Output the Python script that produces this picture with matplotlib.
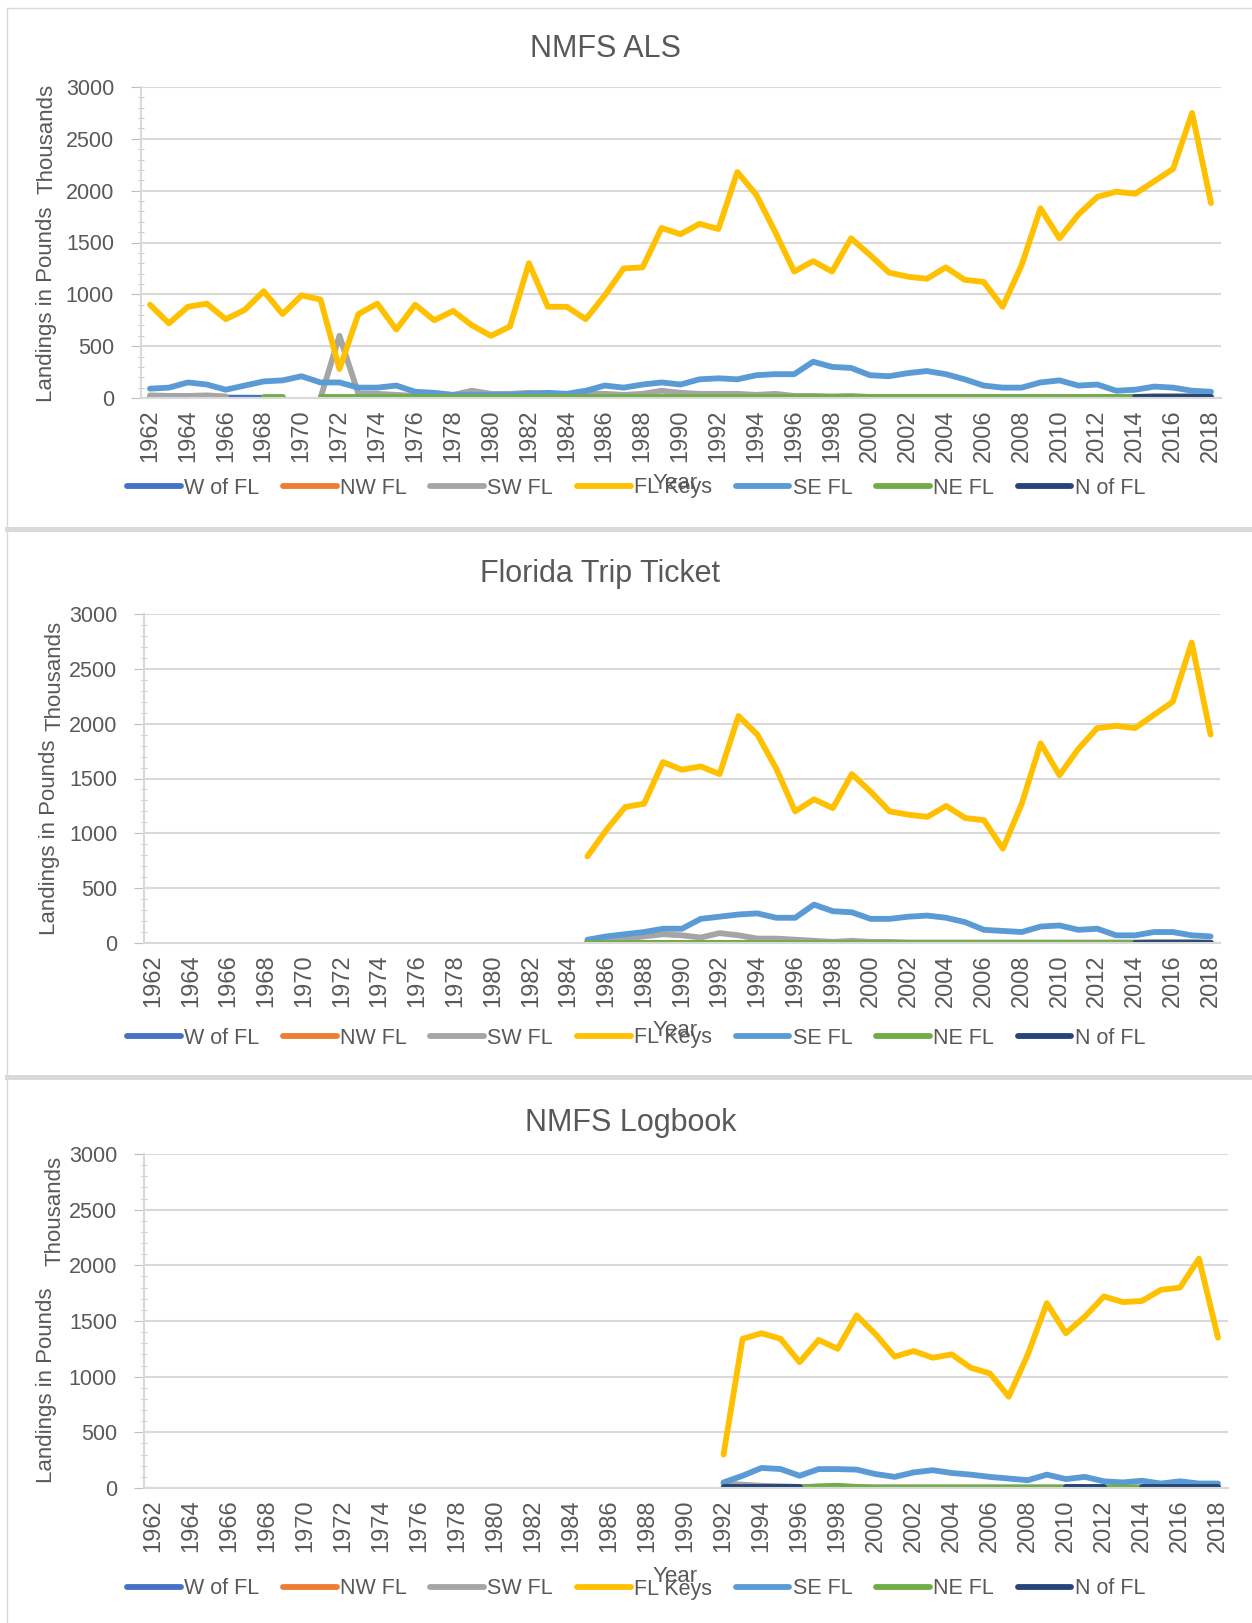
import numpy as np
import matplotlib
matplotlib.use("Agg")
import matplotlib.pyplot as plt
from matplotlib.lines import Line2D
from matplotlib.ticker import MultipleLocator

plt.rcParams['font.family'] = ['Liberation Sans', 'DejaVu Sans']

years = list(range(1962, 2019))
N = None

# NMFS ALS (1962-2018)
als_w_of_fl = [5, 5, 5, 5, 3, 3, 2] + [N] * 50
als_nw_fl = [N] * 9 + [0] * 48
als_sw_fl = [25, 20, 20, 25, 15, N, N, N, N, 0, 600, 40, 40, 30, 20, 30, 30, 70, 40, 40,
             50, 40, 30, 40, 40, 30, 40, 70, 50, 40, 40, 40, 30, 40, 20, 20, 15, 20, 10, 10,
             10, 10, 10, 10, 10, 10, 10, 10, 10, 10, 10, 10, 10, 20, 20, 20, 10]
als_fl_keys = [900, 720, 880, 910, 760, 850, 1030, 810, 990, 950, 280, 810, 910, 660, 900,
               750, 840, 700, 600, 690, 1300, 880, 880, 760, 990, 1250, 1260, 1640, 1580, 1680,
               1630, 2180, 1960, 1600, 1220, 1320, 1220, 1540, 1380, 1210, 1170, 1150, 1260,
               1140, 1120, 880, 1280, 1830, 1540, 1770, 1940, 1990, 1970, 2090, 2210, 2750, 1880]
als_se_fl = [90, 100, 150, 130, 80, 120, 160, 170, 210, 150, 150, 100, 100, 120, 60, 50, 30,
             30, 30, 30, 40, 50, 40, 70, 120, 100, 130, 150, 130, 180, 190, 180, 220, 230, 230,
             350, 300, 290, 220, 210, 240, 260, 230, 180, 120, 100, 100, 150, 170, 120, 130,
             70, 80, 110, 100, 70, 60]
als_ne_fl = [N] * 6 + [5, 5, N] + [5] * 48
als_n_of_fl = [N] * 52 + [5] * 5

# Florida Trip Ticket (1985-2018)
tt_w_of_fl = [N] * 23 + [0] * 34
tt_nw_fl = [N] * 23 + [0] * 34
tt_sw_fl = [N] * 23 + [10, 30, 40, 60, 80, 70, 50, 90, 70, 40, 40, 30, 20, 10, 20, 10, 10,
                       5, 5, 5, 5, 5, 5, 5, 5, 5, 5, 5, 5, 5, 10, 10, 10, 5]
tt_fl_keys = [N] * 23 + [790, 1030, 1240, 1270, 1650, 1580, 1610, 1540, 2070, 1900, 1590,
                         1200, 1310, 1230, 1540, 1380, 1200, 1170, 1150, 1250, 1140, 1120,
                         860, 1270, 1820, 1530, 1770, 1960, 1980, 1960, 2080, 2200, 2740, 1900]
tt_se_fl = [N] * 23 + [30, 60, 80, 100, 130, 130, 220, 240, 260, 270, 230, 230, 350, 290, 280,
                       220, 220, 240, 250, 230, 190, 120, 110, 100, 150, 160, 120, 130, 70, 70,
                       100, 100, 70, 60]
tt_ne_fl = [N] * 23 + [3] * 34
tt_n_of_fl = [N] * 52 + [3] * 5

# NMFS Logbook (1992-2018)
lb_w_of_fl = [N] * 30 + [0] * 27
lb_nw_fl = [N] * 30 + [0] * 27
lb_sw_fl = [N] * 30 + [40, 30, 20, 15, 10, 10, 5, 5, 5, 5, 5, 5, 5, 5, 5, 5, 5, 5, 5, 5, 5,
                       5, 5, 5, 5, 5, 5]
lb_fl_keys = [N] * 30 + [300, 1340, 1390, 1340, 1130, 1330, 1250, 1550, 1380, 1180, 1230,
                         1170, 1200, 1080, 1030, 820, 1200, 1660, 1390, 1540, 1720, 1670, 1680,
                         1780, 1800, 2060, 1350]
lb_se_fl = [N] * 30 + [50, 110, 180, 170, 110, 170, 170, 165, 125, 100, 140, 160, 135, 120,
                       100, 85, 70, 120, 80, 100, 60, 50, 65, 40, 60, 40, 40]
lb_ne_fl = [N] * 30 + [5, 5, 5, 5, 5, 15, 20, 10, 5, 5, 5, 5, 5, 5, 5, 5, 5, 5, 5, 5, 5, 5,
                       5, 5, 5, 5, 5]
lb_n_of_fl = [N] * 30 + [5, 5, 5, 5, 5] + [N] * 13 + [5, 5, 5, N, 5, 5, 5, 5, 5]

names = ['W of FL', 'NW FL', 'SW FL', 'FL Keys', 'SE FL', 'NE FL', 'N of FL']
colors = ['#4472C4', '#ED7D31', '#A5A5A5', '#FFC000', '#5B9BD5', '#70AD47', '#264478']

W, H = 1252, 1623
fig = plt.figure(figsize=(W / 100, H / 100), dpi=100)
txt = '#595959'


def fx(px):
    return px / W


def fy(py):
    return 1 - py / H


def draw_panel(rect, series, title, title_xy, leg_y, year_y, ylab_pos, thou_pos):
    left, top, right, bottom = rect
    ax = fig.add_axes([fx(left), fy(bottom), fx(right - left), (bottom - top) / H])
    for vals, name, c in zip(series, names, colors):
        y = np.array([np.nan if v is None else v for v in vals], dtype=float)
        ax.plot(years, y, color=c, lw=4.2, label=name,
                solid_capstyle='round', solid_joinstyle='round')
    ax.set_xlim(1961.5, 2018.5)
    ax.set_ylim(0, 3000)
    ax.set_xticks(years[::2])
    ax.set_xticklabels([str(v) for v in years[::2]], rotation=90, fontsize=17, color=txt)
    ax.yaxis.set_major_locator(MultipleLocator(500))
    ax.yaxis.set_minor_locator(MultipleLocator(100))
    ax.tick_params(axis='y', which='major', labelsize=15.5, labelcolor=txt,
                   length=7, color='#BFBFBF', pad=12)
    ax.tick_params(axis='y', which='minor', length=4, color='#BFBFBF', direction='inout')
    ax.tick_params(axis='x', length=0, pad=8)
    ax.grid(axis='y', color='#D9D9D9', lw=1.5)
    ax.set_axisbelow(True)
    for s in ['top', 'right']:
        ax.spines[s].set_visible(False)
    for s in ['left', 'bottom']:
        ax.spines[s].set_color('#D9D9D9')
        ax.spines[s].set_linewidth(1.5)
    fig.text(fx(title_xy[0]), fy(title_xy[1]), title, ha='center', va='center',
             fontsize=22, color=txt)
    fig.text(fx(675), fy(year_y), 'Year', ha='center', va='center', fontsize=16,
             color=txt)
    fig.text(fx(ylab_pos[0]), fy(ylab_pos[1]), 'Landings in Pounds', rotation=90,
             ha='center', va='center', fontsize=16, color=txt)
    fig.text(fx(thou_pos[0]), fy(thou_pos[1]), 'Thousands', rotation=90,
             ha='center', va='center', fontsize=16, color=txt)
    ax.legend(loc='center', bbox_to_anchor=(fx(636), fy(leg_y)),
              bbox_transform=fig.transFigure, ncol=7, frameon=False,
              handlelength=2.5, handletextpad=0.15, columnspacing=1.1,
              prop={'size': 15.5}, labelcolor=txt)
    return ax


draw_panel((140.5, 87, 1220.5, 398),
           [als_w_of_fl, als_nw_fl, als_sw_fl, als_fl_keys, als_se_fl, als_ne_fl, als_n_of_fl],
           'NMFS ALS', (606, 49), 488, 484, (47, 304), (47, 139))
draw_panel((143.7, 614, 1220, 943),
           [tt_w_of_fl, tt_nw_fl, tt_sw_fl, tt_fl_keys, tt_se_fl, tt_ne_fl, tt_n_of_fl],
           'Florida Trip Ticket', (600, 574), 1038, 1031, (50, 837), (55, 676))
draw_panel((143.5, 1154, 1227.5, 1488),
           [lb_w_of_fl, lb_nw_fl, lb_sw_fl, lb_fl_keys, lb_se_fl, lb_ne_fl, lb_n_of_fl],
           'NMFS Logbook', (631, 1123), 1589, 1576, (47, 1385), (55, 1211))

# panel borders
fig.add_artist(Line2D([fx(7), fx(7)], [0, fy(8)], transform=fig.transFigure,
                      color='#D9D9D9', lw=1))
fig.add_artist(Line2D([fx(7), 1], [fy(8), fy(8)], transform=fig.transFigure,
                      color='#D9D9D9', lw=1))
for yy in [529, 1077]:
    fig.add_artist(Line2D([fx(7), 1], [fy(yy), fy(yy)], transform=fig.transFigure,
                          color='#D9D9D9', lw=3.6))

fig.savefig('out.png', dpi=100)
